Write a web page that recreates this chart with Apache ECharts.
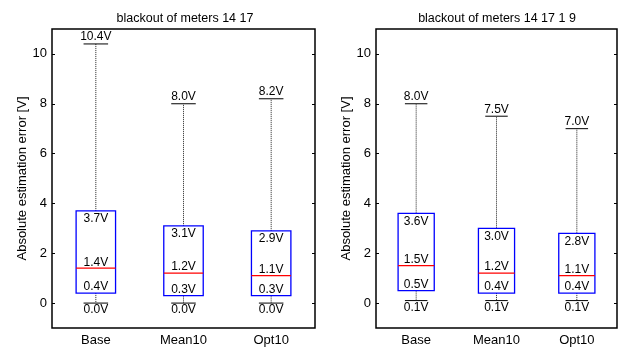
<!DOCTYPE html>
<html>
<head>
<meta charset="utf-8">
<script src="https://cdn.jsdelivr.net/npm/echarts@6/dist/echarts.min.js"></script>
<style>
  html, body { margin: 0; padding: 0; background: #fff; }
  #chart { width: 622px; height: 347px; }
</style>
</head>
<body>
<div id="chart"></div>
<script>
// categories
var categories = ['Base', 'Mean10', 'Opt10'];
var yTicks = [0, 2, 4, 6, 8, 10];

// left plot: blackout of meters 14 17
var leftMin = [0.0, 0.0, 0.0];
var leftQ1 = [0.4, 0.3, 0.3];
var leftMedian = [1.4, 1.2, 1.1];
var leftQ3 = [3.7, 3.1, 2.9];
var leftMax = [10.4, 8.0, 8.2];

// right plot: blackout of meters 14 17 1 9
var rightMin = [0.1, 0.1, 0.1];
var rightQ1 = [0.5, 0.4, 0.4];
var rightMedian = [1.5, 1.2, 1.1];
var rightQ3 = [3.6, 3.0, 2.8];
var rightMax = [8.0, 7.5, 7.0];

var FONT = "'Liberation Sans', Arial, sans-serif";

function buildRows(mins, q1s, meds, q3s, maxs) {
  var rows = [];
  for (var i = 0; i < categories.length; i++) {
    rows.push([i, mins[i], q1s[i], meds[i], q3s[i], maxs[i]]);
  }
  return rows;
}

function label(txt, x, y, vAlign) {
  return {
    type: 'text', x: x, y: y, silent: true,
    style: {
      text: txt, fill: '#000', font: '12px ' + FONT,
      align: 'center', verticalAlign: vAlign
    }
  };
}

// 箱线图：蓝色箱体、红色中位线、黑色虚线须
function renderBox(params, api) {
  var idx = api.value(0);
  var vals = [api.value(1), api.value(2), api.value(3), api.value(4), api.value(5)];
  var band = api.size([1, 0])[0];
  var p = vals.map(function (v) { return api.coord([idx, v]); });
  var cx = p[0][0];
  var bw = band * 0.45 / 2;
  var cw = band * 0.14;
  var yMin = p[0][1], yQ1 = p[1][1], yMed = p[2][1], yQ3 = p[3][1], yMax = p[4][1];
  var fmt = function (v) { return v.toFixed(1) + 'V'; };
  return {
    type: 'group',
    children: [
      { type: 'line', shape: { x1: cx, y1: yQ3, x2: cx, y2: yMax },
        style: { stroke: '#222', lineWidth: 1, lineDash: [1, 1] } },
      { type: 'line', shape: { x1: cx, y1: yQ1, x2: cx, y2: yMin },
        style: { stroke: '#222', lineWidth: 1, lineDash: [1, 1] } },
      { type: 'line', shape: { x1: cx - cw, y1: yMax, x2: cx + cw, y2: yMax },
        style: { stroke: '#000', lineWidth: 1 } },
      { type: 'line', shape: { x1: cx - cw, y1: yMin, x2: cx + cw, y2: yMin },
        style: { stroke: '#000', lineWidth: 1 } },
      { type: 'rect', shape: { x: cx - bw, y: yQ3, width: bw * 2, height: yQ1 - yQ3 },
        style: { stroke: '#0000ff', fill: 'none', lineWidth: 1.3 } },
      { type: 'line', shape: { x1: cx - bw, y1: yMed, x2: cx + bw, y2: yMed },
        style: { stroke: '#ff0000', lineWidth: 1.2 } },
      label(fmt(vals[4]), cx, yMax - 1, 'bottom'),
      label(fmt(vals[3]), cx, yQ3 + 2, 'top'),
      label(fmt(vals[2]), cx, yMed, 'bottom'),
      label(fmt(vals[1]), cx, yQ1, 'bottom'),
      label(fmt(vals[0]), cx, yMin + 1, 'top')
    ]
  };
}

function xAxisOpt(gi) {
  return {
    type: 'category', gridIndex: gi, data: categories, boundaryGap: true,
    axisLine: { show: false }, axisTick: { show: false },
    axisLabel: { color: '#000', fontSize: 13, fontFamily: FONT, margin: 6 }
  };
}

function yAxisOpt(gi, pos, showName) {
  return {
    type: 'value', gridIndex: gi, position: pos, min: -1, max: 11,
    name: showName ? 'Absolute estimation error [V]' : '',
    nameLocation: 'middle', nameGap: 23,
    nameTextStyle: { color: '#000', fontSize: 13, fontFamily: FONT },
    splitLine: { show: false },
    axisLine: { show: false },
    axisTick: { show: true, inside: true, length: 3, customValues: yTicks,
      lineStyle: { color: '#000' } },
    axisLabel: { show: showName, customValues: yTicks, color: '#000',
      fontSize: 13, fontFamily: FONT, margin: 5 }
  };
}

var chart = echarts.init(document.getElementById('chart'), null, { renderer: 'canvas' });
chart.setOption({
  animation: false,
  backgroundColor: '#fff',
  title: [
    { text: 'blackout of meters 14 17', left: 180, top: 7, textAlign: 'center',
      textStyle: { color: '#000', fontSize: 12.5, fontWeight: 'normal', fontFamily: FONT } },
    { text: 'blackout of meters 14 17 1 9', left: 492, top: 7, textAlign: 'center',
      textStyle: { color: '#000', fontSize: 12.5, fontWeight: 'normal', fontFamily: FONT } }
  ],
  grid: [
    { left: 52, right: 307, top: 29, bottom: 19, show: true,
      borderColor: '#000', borderWidth: 1.5, backgroundColor: 'transparent' },
    { left: 376, right: 5, top: 29, bottom: 19, show: true,
      borderColor: '#000', borderWidth: 1.5, backgroundColor: 'transparent' }
  ],
  xAxis: [xAxisOpt(0), xAxisOpt(1)],
  yAxis: [yAxisOpt(0, 'left', true), yAxisOpt(0, 'right', false),
          yAxisOpt(1, 'left', true), yAxisOpt(1, 'right', false)],
  series: [
    { type: 'custom', xAxisIndex: 0, yAxisIndex: 0, renderItem: renderBox,
      encode: { x: 0, y: [1, 2, 3, 4, 5] },
      data: buildRows(leftMin, leftQ1, leftMedian, leftQ3, leftMax) },
    { type: 'custom', xAxisIndex: 1, yAxisIndex: 2, renderItem: renderBox,
      encode: { x: 0, y: [1, 2, 3, 4, 5] },
      data: buildRows(rightMin, rightQ1, rightMedian, rightQ3, rightMax) }
  ]
});
</script>
</body>
</html>
